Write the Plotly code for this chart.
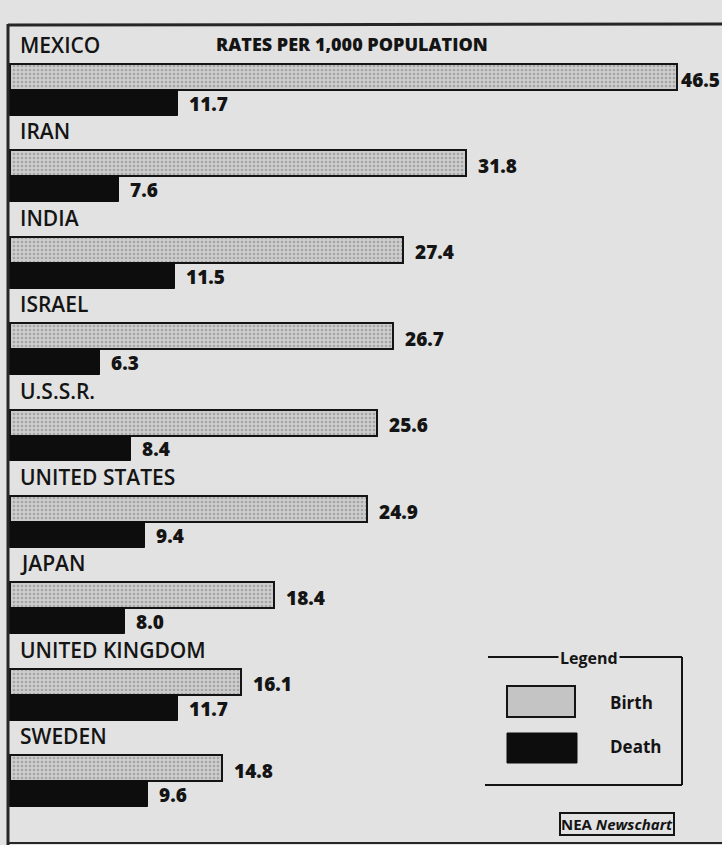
import plotly.graph_objects as go

countries = ["MEXICO", "IRAN", "INDIA", "ISRAEL", "U.S.S.R.", "UNITED STATES",
             "JAPAN", "UNITED KINGDOM", "SWEDEN"]
birth = [46.5, 31.8, 27.4, 26.7, 25.6, 24.9, 18.4, 16.1, 14.8]
death = [11.7, 7.6, 11.5, 6.3, 8.4, 9.4, 8.0, 11.7, 9.6]
title_text = "RATES PER 1,000 POPULATION"

W, H = 722, 845
BG = "#e2e2e2"
INK = "#141414"
FONT = "Open Sans"

# axis geometry (pixels -> data units)
x0_px, x_scale = 10, 14.35
g0_px, g_step = 77, 86.4
xr = [-x0_px / x_scale, (W - x0_px) / x_scale]
yr = [(H - g0_px) / g_step, -g0_px / g_step]

idx = list(range(len(countries)))
bw = 0.30
y_birth = [i for i in idx]
y_death = [i + bw for i in idx]

fig = go.Figure()
fig.add_trace(go.Bar(
    name="Birth", x=birth, y=y_birth, orientation="h", width=bw,
    marker=dict(color="#cdcdcd", line=dict(color=INK, width=2),
                pattern=dict(shape=".", fgcolor="#7d7d7d", size=4, solidity=0.35)),
    showlegend=False,
))
fig.add_trace(go.Bar(
    name="Death", x=death, y=y_death, orientation="h", width=bw,
    marker=dict(color="#0d0d0d", line=dict(color="#0d0d0d", width=1)),
    showlegend=False,
))

ann = []
xmax = xr[1]
for i, c in enumerate(countries):
    ann.append(dict(x=0.6, y=i - 0.37, text=c, xref="x", yref="y", xanchor="left",
                    yanchor="middle", showarrow=False, borderpad=0,
                    font=dict(family=FONT, size=21, color=INK, weight=600)))
    # keep the label inside the page when the bar nearly reaches the right edge
    shift = 11 if (xmax - birth[i]) * x_scale > 55 else 3
    ann.append(dict(x=birth[i], y=y_birth[i] + 0.03, text=f"{birth[i]:.1f}", xref="x", yref="y",
                    xanchor="left", yanchor="middle", xshift=shift, showarrow=False, borderpad=0,
                    font=dict(family=FONT, size=19, color=INK, weight=800)))
    ann.append(dict(x=death[i], y=y_death[i] + 0.01, text=f"{death[i]:.1f}", xref="x", yref="y",
                    xanchor="left", yanchor="middle", xshift=10, showarrow=False, borderpad=0,
                    font=dict(family=FONT, size=19, color=INK, weight=800)))


def px(x):
    return x / W


def py(y):
    return 1 - y / H


ann.append(dict(x=px(214), y=py(44), xref="paper", yref="paper", text=title_text,
                xanchor="left", yanchor="middle", showarrow=False,
                font=dict(family=FONT, size=18, color=INK, weight=800)))
# legend texts
ann.append(dict(x=px(589), y=py(658), xref="paper", yref="paper", text="Legend",
                xanchor="center", yanchor="middle", showarrow=False, bgcolor=BG,
                borderpad=1, font=dict(family=FONT, size=16, color=INK, weight=700)))
ann.append(dict(x=px(608), y=py(702), xref="paper", yref="paper", text="Birth",
                xanchor="left", yanchor="middle", showarrow=False,
                font=dict(family=FONT, size=17, color=INK, weight=700)))
ann.append(dict(x=px(608), y=py(746), xref="paper", yref="paper", text="Death",
                xanchor="left", yanchor="middle", showarrow=False,
                font=dict(family=FONT, size=17, color=INK, weight=700)))
ann.append(dict(x=px(617), y=py(824), xref="paper", yref="paper",
                text="NEA <i>Newschart</i>",
                xanchor="center", yanchor="middle", showarrow=False,
                bordercolor=INK, borderwidth=2, borderpad=0, bgcolor=BG,
                font=dict(family=FONT, size=15, color=INK, weight=700)))

line = dict(color="#262626", width=3)
shapes = [
    # frame
    dict(type="line", xref="paper", yref="paper", x0=px(8), x1=px(722), y0=py(25), y1=py(24), line=line),
    dict(type="line", xref="paper", yref="paper", x0=px(8), x1=px(8), y0=py(24), y1=py(845), line=line),
    dict(type="line", xref="paper", yref="paper", x0=px(8), x1=px(722), y0=py(843), y1=py(843),
         line=dict(color="#262626", width=2)),
    # legend box (open left)
    dict(type="line", xref="paper", yref="paper", x0=px(488), x1=px(682), y0=py(657), y1=py(657),
         line=dict(color=INK, width=2)),
    dict(type="line", xref="paper", yref="paper", x0=px(682), x1=px(682), y0=py(657), y1=py(785),
         line=dict(color=INK, width=2)),
    dict(type="line", xref="paper", yref="paper", x0=px(485), x1=px(682), y0=py(785), y1=py(785),
         line=dict(color=INK, width=2)),
    # legend swatches
    dict(type="rect", xref="paper", yref="paper", x0=px(507), x1=px(575), y0=py(686), y1=py(717),
         fillcolor="#c4c4c4", line=dict(color=INK, width=2)),
    dict(type="rect", xref="paper", yref="paper", x0=px(507), x1=px(577), y0=py(733), y1=py(763),
         fillcolor="#0d0d0d", line=dict(color="#0d0d0d", width=1)),
]

fig.update_layout(
    width=W, height=H, margin=dict(l=0, r=0, t=0, b=0),
    paper_bgcolor=BG, plot_bgcolor=BG, barmode="overlay", bargap=0,
    xaxis=dict(range=xr, visible=False, fixedrange=True),
    yaxis=dict(range=yr, visible=False, fixedrange=True),
    annotations=ann, shapes=shapes, showlegend=False,
)

fig.write_html("out.html", config={"displayModeBar": False},
               post_script="document.body.style.margin='0';document.body.style.overflow='hidden';")
